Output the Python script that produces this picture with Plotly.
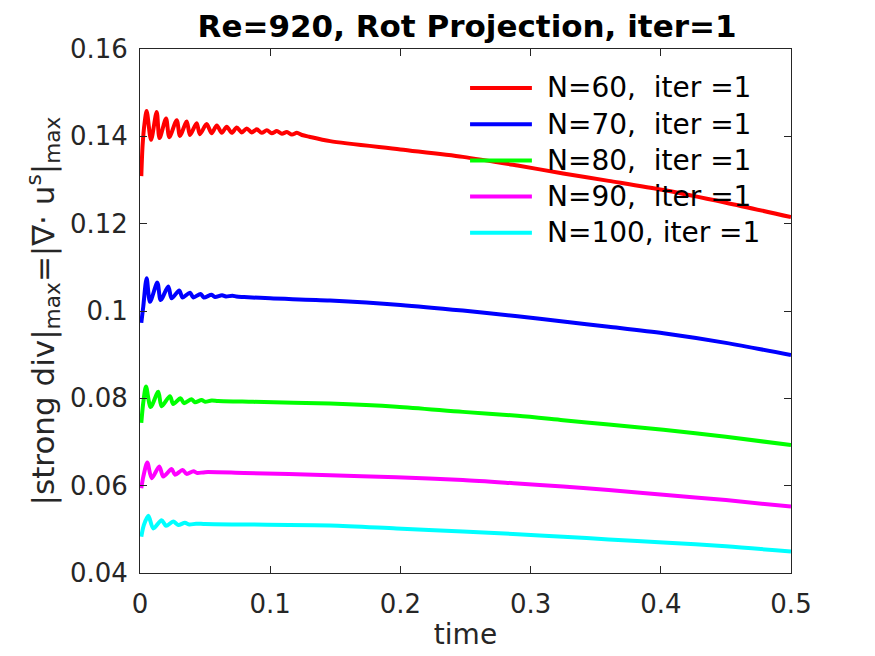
import plotly.graph_objects as go

# values
t_n60 = [0.0010, 0.0020, 0.0035, 0.0051, 0.0085, 0.0128, 0.0150, 0.0200, 0.0225, 0.0282,
         0.0307, 0.0359, 0.0384, 0.0435, 0.0460, 0.0512, 0.0550, 0.0590, 0.0628, 0.0666,
         0.0705, 0.0743, 0.0782, 0.0820, 0.0858, 0.0897, 0.0935, 0.0974, 0.1012, 0.1051,
         0.1090, 0.1128, 0.1167, 0.1205, 0.1244, 0.1300, 0.1460, 0.2000, 0.2480, 0.2900,
         0.3250, 0.3600, 0.4020, 0.4500, 0.5000]
d_n60 = [0.1309, 0.1380, 0.1430, 0.1458, 0.1392, 0.1456, 0.1396, 0.1441, 0.1398, 0.1437,
         0.1401, 0.1434, 0.1403, 0.1430, 0.1405, 0.1428, 0.1407, 0.1425, 0.1408, 0.1422,
         0.1408, 0.1420, 0.1409, 0.1418, 0.1409, 0.1416, 0.1408, 0.1414, 0.1407, 0.1412,
         0.1406, 0.1410, 0.1404, 0.1408, 0.1403, 0.1399, 0.1389, 0.1370, 0.1353, 0.1333,
         0.1315, 0.1298, 0.1277, 0.1248, 0.1215]

t_n70 = [0.0010, 0.0025, 0.0051, 0.0077, 0.0133, 0.0159, 0.0217, 0.0243, 0.0301, 0.0327,
         0.0384, 0.0410, 0.0465, 0.0490, 0.0550, 0.0576, 0.0630, 0.0660, 0.0710, 0.0740,
         0.0800, 0.1000, 0.1460, 0.2000, 0.2480, 0.2900, 0.3250, 0.3600, 0.4020, 0.4500,
         0.5000]
d_n70 = [0.0973, 0.1010, 0.1075, 0.1021, 0.1065, 0.1025, 0.1056, 0.1029, 0.1047, 0.1031,
         0.1042, 0.1031, 0.1039, 0.1031, 0.1037, 0.1032, 0.1036, 0.1033, 0.1035, 0.1033,
         0.1032, 0.1029, 0.1024, 0.1014, 0.1001, 0.0988, 0.0976, 0.0964, 0.0949, 0.0927,
         0.0899]

t_n80 = [0.0010, 0.0025, 0.0046, 0.0082, 0.0140, 0.0166, 0.0230, 0.0255, 0.0311, 0.0338,
         0.0396, 0.0422, 0.0473, 0.0500, 0.0550, 0.0600, 0.0870, 0.1460, 0.1970, 0.2480,
         0.2900, 0.3250, 0.3600, 0.4020, 0.4500, 0.5000]
d_n80 = [0.0744, 0.0790, 0.0827, 0.0780, 0.0815, 0.0782, 0.0805, 0.0787, 0.0800, 0.0789,
         0.0798, 0.0791, 0.0796, 0.0792, 0.0795, 0.0794, 0.0792, 0.0788, 0.0781, 0.0769,
         0.0760, 0.0750, 0.0740, 0.0728, 0.0712, 0.0693]

t_n90 = [0.0010, 0.0025, 0.0056, 0.0090, 0.0148, 0.0179, 0.0243, 0.0269, 0.0327, 0.0358,
         0.0410, 0.0440, 0.0500, 0.0800, 0.1460, 0.1970, 0.2480, 0.2900, 0.3250, 0.3600,
         0.4020, 0.4500, 0.5000]
d_n90 = [0.0594, 0.0620, 0.0653, 0.0617, 0.0644, 0.0621, 0.0638, 0.0625, 0.0636, 0.0627,
         0.0633, 0.0629, 0.0631, 0.0629, 0.0624, 0.0619, 0.0613, 0.0605, 0.0598, 0.0590,
         0.0579, 0.0567, 0.0552]

t_n100 = [0.0010, 0.0030, 0.0064, 0.0102, 0.0166, 0.0200, 0.0255, 0.0294, 0.0345, 0.0380,
          0.0430, 0.0500, 0.0800, 0.1460, 0.1970, 0.2480, 0.2900, 0.3250, 0.3600, 0.4020,
          0.4500, 0.5000]
d_n100 = [0.0483, 0.0510, 0.0531, 0.0502, 0.0521, 0.0508, 0.0518, 0.0510, 0.0515, 0.0511,
          0.0513, 0.0512, 0.0511, 0.0509, 0.0502, 0.0495, 0.0489, 0.0483, 0.0477, 0.0470,
          0.0461, 0.0449]

names = ["N=60,  iter =1", "N=70,  iter =1", "N=80,  iter =1", "N=90,  iter =1", "N=100, iter =1"]
colors = ["#ff0000", "#0000ff", "#00ff00", "#ff00ff", "#00ffff"]
series = [(t_n60, d_n60), (t_n70, d_n70), (t_n80, d_n80), (t_n90, d_n90), (t_n100, d_n100)]

x_ticks = [0, 0.1, 0.2, 0.3, 0.4, 0.5]
x_labels = ["0", "0.1", "0.2", "0.3", "0.4", "0.5"]
y_ticks = [0.04, 0.06, 0.08, 0.1, 0.12, 0.14, 0.16]
y_labels = ["0.04", "0.06", "0.08", "0.1", "0.12", "0.14", "0.16"]

axis_col = "#262626"
font = "DejaVu Sans"

fig = go.Figure()
for (t, d), name, col in zip(series, names, colors):
    fig.add_trace(go.Scatter(x=t, y=d, mode="lines", name=name,
                             line=dict(color=col, width=4, shape="spline", smoothing=0.8),
                             showlegend=False))

# MATLAB-like legend: long line samples, no box
for i, (name, col) in enumerate(zip(names, colors)):
    yy = 0.9256 - i * 0.0691
    fig.add_shape(type="line", xref="paper", yref="paper",
                  x0=0.507, x1=0.602, y0=yy, y1=yy,
                  line=dict(color=col, width=4))
    fig.add_annotation(xref="paper", yref="paper", x=0.622, y=yy,
                       text=name, showarrow=False, xanchor="left", yanchor="middle",
                       font=dict(family=font, size=28, color="black"))

axis_common = dict(showgrid=False, zeroline=False, showline=True, linecolor=axis_col,
                   linewidth=1, mirror="ticks", ticks="inside", ticklen=7,
                   tickcolor=axis_col, tickfont=dict(family=font, size=26, color=axis_col))

fig.update_xaxes(range=[0, 0.5], tickvals=x_ticks, ticktext=x_labels,
                 title=dict(text="time", font=dict(family=font, size=28, color=axis_col), standoff=6),
                 ticklabelstandoff=8, **axis_common)
fig.update_yaxes(range=[0.04, 0.16], tickvals=y_ticks, ticktext=y_labels,
                 title=dict(text="|strong div|<sub>max</sub>=|\u2207\u00b7 u<sup>s</sup>|<sub>max</sub>",
                            font=dict(family=font, size=31, color=axis_col), standoff=6),
                 ticklabelstandoff=6, **axis_common)

fig.update_layout(
    width=875, height=656,
    margin=dict(l=132, r=92, t=41, b=91),
    plot_bgcolor="white", paper_bgcolor="white",
    title=dict(text="<b>Re=920, Rot Projection, iter=1</b>", x=0.5246, xanchor="center",
               y=0.972, yanchor="middle", font=dict(family=font, size=31, color="black")),
)

fig.write_html("out.html")
